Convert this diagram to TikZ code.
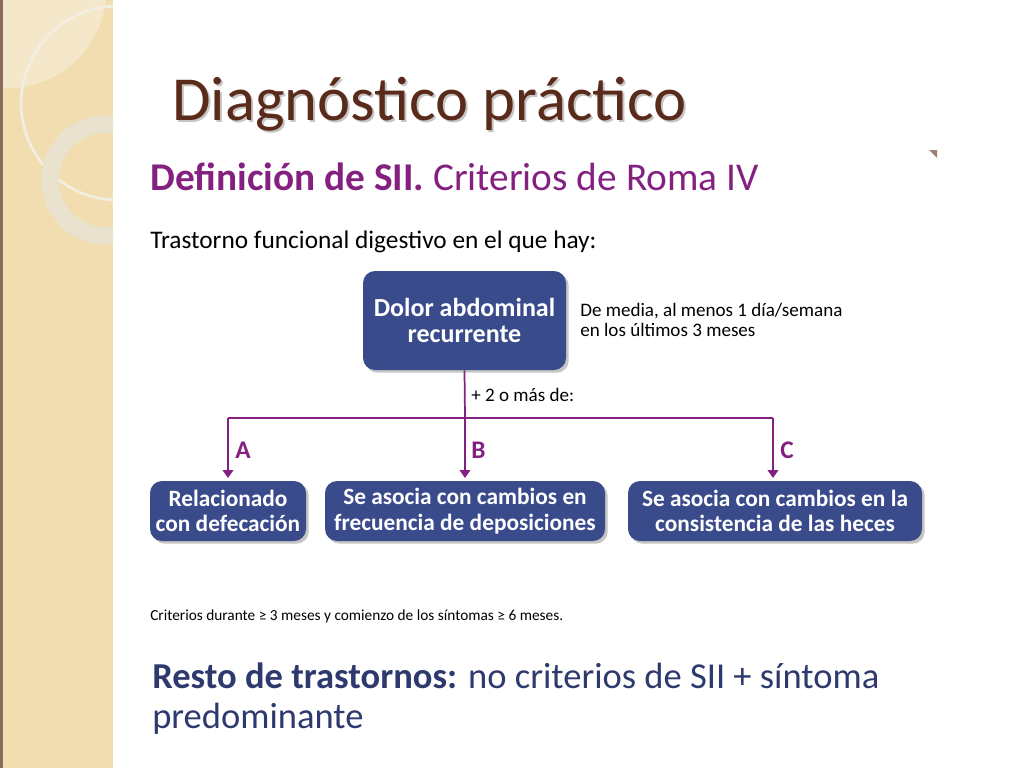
\documentclass[tikz,border=0pt]{standalone}
\usepackage{fontspec}
\setmainfont{Carlito}
\usetikzlibrary{shadows,arrows.meta}
\definecolor{boxblue}{HTML}{3A4B8C}
\definecolor{purp}{HTML}{84207F}
\definecolor{titlebrown}{HTML}{5A2A1A}
\definecolor{beige}{HTML}{F1DDAF}
\definecolor{ringc}{HTML}{E9E2CF}
\definecolor{navy}{HTML}{2E3A6E}
\tikzset{
 bx/.style={fill=boxblue,rounded corners=9pt,text=white,font=\fontsize{17.5}{19}\selectfont\bfseries,align=center,inner sep=0pt,drop shadow={shadow xshift=2pt,shadow yshift=-2pt,opacity=0.45}},
 conn/.style={draw=purp,line width=1.3pt},
 arr/.style={conn,-{Triangle[length=6pt,width=8pt]}},
 lab/.style={text=purp,font=\fontsize{19}{22}\selectfont\bfseries},
 note/.style={font=\fontsize{14.3}{16}\selectfont,anchor=base west,inner sep=0pt}
}
\begin{document}
\begin{tikzpicture}[x=0.75pt,y=-0.75pt]
\useasboundingbox (0,0) rectangle (1024,768);
\fill[white] (0,0) rectangle (1024,768);
% sidebar
\fill[beige] (0,0) rectangle (113,768);
\begin{scope}
\clip (0,0) rectangle (113,768);
\fill[white,opacity=0.35] (8,-10) circle (98);
\draw[ringc!60!white,line width=2pt] (118,103) circle (97);
\draw[ringc,line width=13pt] (106,180) circle (56);
\end{scope}
\fill[titlebrown!70] (0,0) rectangle (3,768);
% titles
\node[anchor=base west,inner sep=0pt,text=black!45,opacity=0.5,font=\fontsize{47}{50}\selectfont] (titlesh) at (174,122) {Diagnóstico práctico};
\node[anchor=base west,inner sep=0pt,text=titlebrown,font=\fontsize{47}{50}\selectfont] (title) at (172,120) {Diagnóstico práctico};
\node[anchor=base west,inner sep=0pt,text=purp,font=\fontsize{29.5}{32}\selectfont] (sub) at (150,190) {\textbf{Definición de SII.} Criterios de Roma IV};
\fill[titlebrown!60] (929,150) -- (937,150) -- (937,158) -- cycle;
\node[anchor=base west,inner sep=0pt,font=\fontsize{19}{22}\selectfont] (intro) at (150,248) {Trastorno funcional digestivo en el que hay:};
% boxes
\node[bx,font=\fontsize{19.5}{20}\selectfont\bfseries,minimum width=203*0.75pt,minimum height=99*0.75pt] (dolor) at (464.5,320.5) {Dolor abdominal\\ recurrente};
\node[bx,minimum width=156*0.75pt,minimum height=60*0.75pt] (a) at (228,511) {Relacionado\\con defecación};
\node[bx,minimum width=280*0.75pt,minimum height=60*0.75pt] (b) at (465,511) {Se asocia con cambios en\\frecuencia de deposiciones};
\node[bx,minimum width=294*0.75pt,minimum height=60*0.75pt] (c) at (775,511) {Se asocia con cambios en la\\consistencia de las heces};
\node[note] (media) at (580,316) {De media, al menos 1 día/semana};
\node[note] (ult) at (580,336) {en los últimos 3 meses};
% connectors
\coordinate (j) at (465,418);
\coordinate (ja) at (228,418);
\coordinate (jc) at (773,418);
\draw[conn] (dolor.south) -- (j);
\draw[conn] (ja) -- (jc);
\draw[arr] (ja) -- (228,478);
\draw[arr] (j) -- (465,478);
\draw[arr] (jc) -- (773,478);
\node[note] (mas) at (471,401) {+ 2 o más de:};
\node[lab,anchor=base west,inner sep=0pt] (la) at (235,458) {A};
\node[lab,anchor=base west,inner sep=0pt] (lb) at (471,458) {B};
\node[lab,anchor=base west,inner sep=0pt] (lc) at (780,458) {C};
\node[anchor=base west,inner sep=0pt,font=\fontsize{11.5}{13}\selectfont] (crit) at (150,620) {Criterios durante ≥ 3 meses y comienzo de los síntomas ≥ 6 meses.};
\node[anchor=base west,inner sep=0pt,text=navy,font=\fontsize{27.4}{30}\selectfont] (resto) at (152,688) {\textbf{Resto de trastornos:} no criterios de SII + síntoma};
\node[anchor=base west,inner sep=0pt,text=navy,font=\fontsize{27.4}{30}\selectfont] (pred) at (152,728) {predominante};
\end{tikzpicture}
\end{document}
